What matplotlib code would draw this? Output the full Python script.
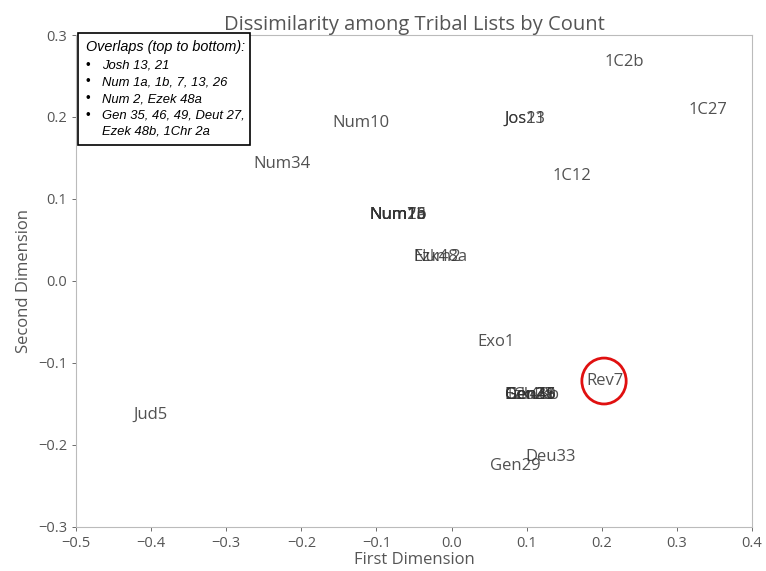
import matplotlib.pyplot as plt
from matplotlib.patches import Ellipse, Rectangle

# MDS coordinates of each tribal list (first, second dimension)
names = ['1C2b', '1C27', 'Jos13', 'Jos21', '1C12', 'Num10', 'Num34',
         'Num1a', 'Num1b', 'Num7', 'Num13', 'Num26', 'Num2', 'Ezk48a',
         'Exo1', 'Rev7', 'Gen35', 'Gen46', 'Gen49', 'Deu27', 'Ezk48b', '1Ch2a',
         'Jud5', 'Deu33', 'Gen29']
dim1 = [0.204, 0.315, 0.071, 0.071, 0.134, -0.158, -0.264,
        -0.109, -0.109, -0.109, -0.109, -0.109, -0.051, -0.051,
        0.035, 0.180, 0.071, 0.071, 0.071, 0.071, 0.071, 0.071,
        -0.424, 0.098, 0.051]
dim2 = [0.267, 0.2085, 0.198, 0.198, 0.128, 0.193, 0.143,
        0.080, 0.080, 0.080, 0.080, 0.080, 0.029, 0.029,
        -0.074, -0.122, -0.139, -0.139, -0.139, -0.139, -0.139, -0.139,
        -0.163, -0.215, -0.226]

overlaps = ['Josh 13, 21', 'Num 1a, 1b, 7, 13, 26', 'Num 2, Ezek 48a',
            'Gen 35, 46, 49, Deut 27,\nEzek 48b, 1Chr 2a']

grey = '#555555'
plt.rcParams['font.family'] = ['Open Sans', 'DejaVu Sans']

fig = plt.figure(figsize=(7.66, 5.71), dpi=100)
ax = fig.add_axes([0.0992, 0.0771, 0.8825, 0.8616])

for n, x, y in zip(names, dim1, dim2):
    ax.text(x, y, n, ha='left', va='center', fontsize=12, color='#333333', alpha=0.85)

ax.set_xlim(-0.5, 0.4)
ax.set_ylim(-0.3, 0.3)
ax.set_xticks([-0.5, -0.4, -0.3, -0.2, -0.1, 0.0, 0.1, 0.2, 0.3, 0.4])
ax.set_yticks([-0.3, -0.2, -0.1, 0.0, 0.1, 0.2, 0.3])
ax.tick_params(colors=grey, labelsize=10.5, length=3, width=0.6)
for s in ax.spines.values():
    s.set_color('#bbbbbb')
ax.set_xlabel('First Dimension', color=grey, fontsize=12, labelpad=1)
ax.set_ylabel('Second Dimension', color=grey, fontsize=12, labelpad=4)
ax.set_title('Dissimilarity among Tribal Lists by Count', color=grey, fontsize=14.5, pad=3)

# highlight Rev7
ax.add_patch(Ellipse((dim1[15] + 0.023, dim2[15]), 0.059, 0.056,
                     fill=False, edgecolor='#e01010', linewidth=2, zorder=5))

# overlap note box
fig.patches.append(Rectangle((78 / 766, 1 - 145 / 571), 172 / 766, 112 / 571,
                             transform=fig.transFigure, facecolor='white',
                             edgecolor='black', linewidth=1.2, zorder=10))
fig.text(86 / 766, 1 - 47 / 571, 'Overlaps (top to bottom):', style='italic',
         family=['Liberation Sans'], fontsize=10.4, va='center', zorder=11)
yy = 66
for item in overlaps:
    fig.text(86 / 766, 1 - yy / 571, '•', family=['Liberation Sans'], fontsize=9.5,
             va='center', zorder=11)
    for ln in item.split('\n'):
        fig.text(102 / 766, 1 - yy / 571, ln, style='italic', family=['Liberation Sans'],
                 fontsize=9.4, va='center', zorder=11)
        yy += 16.5

fig.savefig('out.png', dpi=100)
